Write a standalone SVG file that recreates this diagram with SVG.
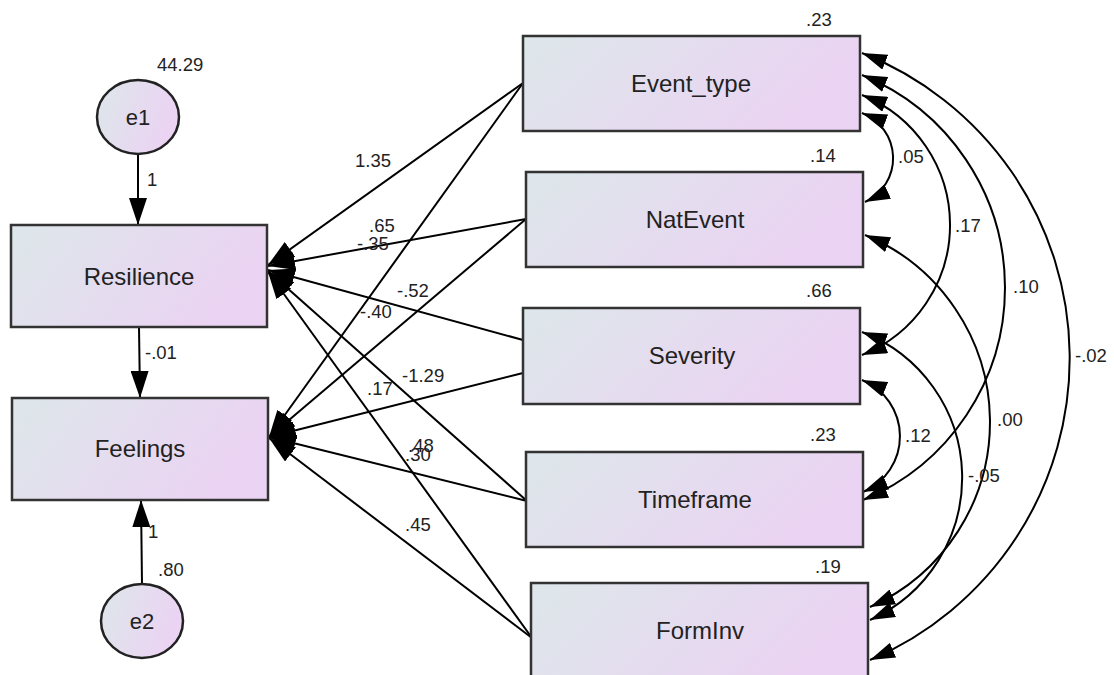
<svg xmlns="http://www.w3.org/2000/svg" width="1114" height="675" viewBox="0 0 1114 675">
<style>
text { font-family: "Liberation Sans", Arial, sans-serif; fill: #222; }
.n { font-size: 18.5px; }
.lbl { font-size: 24px; text-anchor: middle; }
.lat { font-size: 22px; text-anchor: middle; }
.box { fill: url(#g); stroke: #333; stroke-width: 2.5; }
.c { fill: none; stroke: #000; stroke-width: 2; }
.p { marker-end: url(#ah); }
.cv { marker-start: url(#ah2); marker-end: url(#ah2); }
</style>
<defs>
<linearGradient id="g" x1="0" y1="0" x2="1" y2="0.3">
<stop offset="0" stop-color="#dde7ea"/>
<stop offset="1" stop-color="#ebd3f3"/>
</linearGradient>
<marker id="ah" viewBox="0 0 27 18" refX="27" refY="9" markerWidth="27" markerHeight="18" markerUnits="userSpaceOnUse" orient="auto-start-reverse">
<path d="M0,0 L27,9 L0,18 z" fill="#000"/>
</marker>
<marker id="ah2" viewBox="0 0 25 16" refX="25" refY="8" markerWidth="25" markerHeight="16" markerUnits="userSpaceOnUse" orient="auto-start-reverse">
<path d="M0,0 L25,8 L0,16 z" fill="#000"/>
</marker>
</defs>
<rect width="1114" height="675" fill="#fff"/>

<g id="connectors">
<line class="c p" x1="138" y1="154" x2="138" y2="225"/>
<line class="c p" x1="139" y1="327" x2="140" y2="398"/>
<line class="c p" x1="142" y1="584" x2="141" y2="500"/>

<line class="c p" x1="523" y1="83" x2="268" y2="265"/>
<line class="c p" x1="526" y1="219" x2="268" y2="266"/>
<line class="c p" x1="523" y1="340" x2="268" y2="270"/>
<line class="c p" x1="527" y1="501" x2="268" y2="271"/>
<line class="c p" x1="532" y1="638" x2="268" y2="272"/>

<line class="c p" x1="523" y1="83" x2="269" y2="437"/>
<line class="c p" x1="526" y1="219" x2="269" y2="437"/>
<line class="c p" x1="523" y1="373" x2="269" y2="437"/>
<line class="c p" x1="527" y1="501" x2="269" y2="437"/>
<line class="c p" x1="532" y1="638" x2="269" y2="438"/>

<path class="c cv" d="M862,113 A48.3,48.3 0 0 1 865,202"/>
<path class="c cv" d="M862,95 A140,140 0 0 1 862,355"/>
<path class="c cv" d="M862,75 A229.7,229.7 0 0 1 863,500"/>
<path class="c cv" d="M862,53 A328,328 0 0 1 870,660"/>
<path class="c cv" d="M865,235 A202.5,202.5 0 0 1 870,607"/>
<path class="c cv" d="M862,332 A156,156 0 0 1 870,620"/>
<path class="c cv" d="M862,380 A60.6,60.6 0 0 1 863,492"/>
</g>

<g id="e1">
<ellipse cx="138" cy="117" rx="41" ry="37" fill="url(#g)" stroke="#222" stroke-width="2.5"/>
<text class="lat" x="138" y="125">e1</text>
<text class="n" x="157" y="71">44.29</text>
</g>
<g id="e2">
<ellipse cx="142" cy="621" rx="41" ry="37" fill="url(#g)" stroke="#222" stroke-width="2.5"/>
<text class="lat" x="142" y="629">e2</text>
<text class="n" x="158" y="576">.80</text>
</g>
<g id="Resilience">
<rect class="box" x="11" y="225" width="256" height="102"/>
<text class="lbl" x="139" y="285">Resilience</text>
</g>
<g id="Feelings">
<rect class="box" x="12" y="398" width="256" height="102"/>
<text class="lbl" x="140" y="457">Feelings</text>
</g>
<g id="Event_type">
<rect class="box" x="523" y="36" width="337" height="95"/>
<text class="lbl" x="691" y="92">Event_type</text>
<text class="n" x="806" y="26">.23</text>
</g>
<g id="NatEvent">
<rect class="box" x="526" y="172" width="337" height="95"/>
<text class="lbl" x="695" y="228">NatEvent</text>
<text class="n" x="810" y="162">.14</text>
</g>
<g id="Severity">
<rect class="box" x="523" y="308" width="337" height="96"/>
<text class="lbl" x="692" y="364">Severity</text>
<text class="n" x="806" y="297">.66</text>
</g>
<g id="Timeframe">
<rect class="box" x="526" y="452" width="337" height="95"/>
<text class="lbl" x="695" y="508">Timeframe</text>
<text class="n" x="810" y="441">.23</text>
</g>
<g id="FormInv">
<rect class="box" x="531" y="583" width="337" height="100"/>
<text class="lbl" x="700" y="639">FormInv</text>
<text class="n" x="815" y="573">.19</text>
</g>

<g id="labels">
<text class="n" x="147" y="186">1</text>
<text class="n" x="145" y="359">-.01</text>
<text class="n" x="148" y="538">1</text>
<text class="n" x="355" y="167">1.35</text>
<text class="n" x="369" y="232">.65</text>
<text class="n" x="357" y="250">-.35</text>
<text class="n" x="397" y="297">-.52</text>
<text class="n" x="360" y="318">-.40</text>
<text class="n" x="402" y="382">-1.29</text>
<text class="n" x="367" y="395">.17</text>
<text class="n" x="408" y="452">.48</text>
<text class="n" x="405" y="461">.30</text>
<text class="n" x="405" y="531">.45</text>
<text class="n" x="898" y="163">.05</text>
<text class="n" x="955" y="232">.17</text>
<text class="n" x="1013" y="293">.10</text>
<text class="n" x="1075" y="362">-.02</text>
<text class="n" x="997" y="426">.00</text>
<text class="n" x="905" y="442">.12</text>
<text class="n" x="968" y="482">-.05</text>
</g>
</svg>
